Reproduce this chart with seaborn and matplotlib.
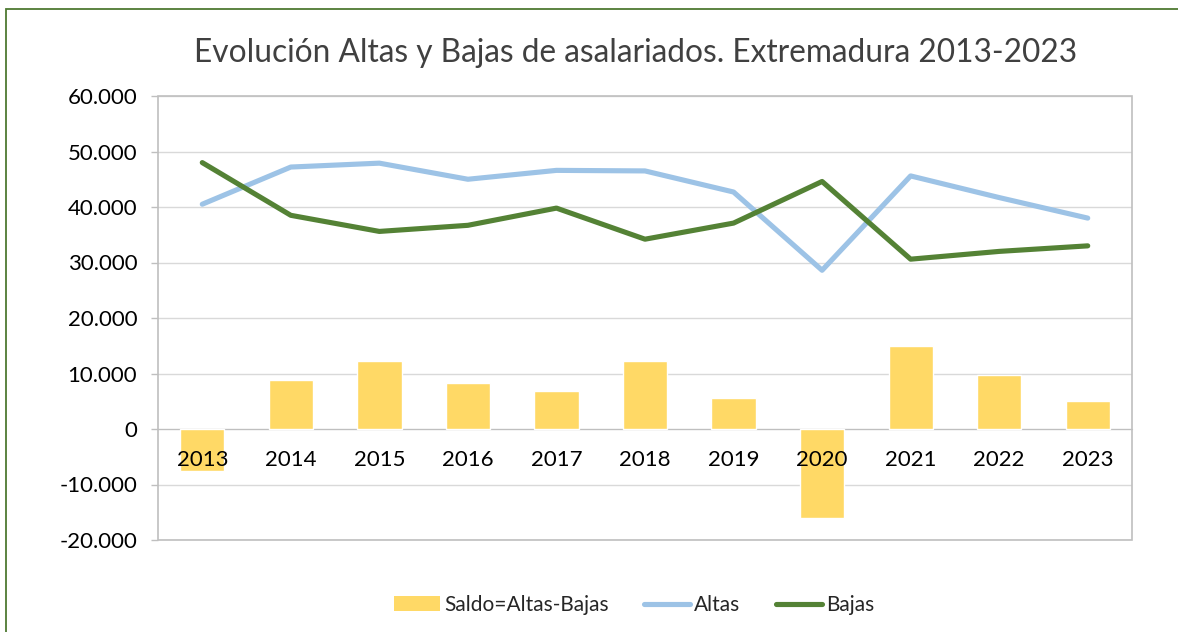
import numpy as np
import pandas as pd
import matplotlib
matplotlib.use("Agg")
import matplotlib.pyplot as plt
from matplotlib.patches import Rectangle, Patch
from matplotlib.lines import Line2D
from matplotlib.ticker import FuncFormatter, MultipleLocator
import seaborn as sns

# --- data ---
years = ["2013", "2014", "2015", "2016", "2017", "2018",
         "2019", "2020", "2021", "2022", "2023"]
altas = [40500, 47200, 47900, 45000, 46600, 46500, 42700, 28600, 45600, 41700, 38000]
bajas = [48000, 38500, 35600, 36700, 39800, 34200, 37100, 44600, 30600, 32000, 33000]
saldo = [-7500, 8800, 12300, 8300, 6800, 12300, 5600, -16000, 15000, 9700, 5000]

df = pd.DataFrame({"year": years, "altas": altas, "bajas": bajas, "saldo": saldo})
df["idx"] = np.arange(len(df))

c_bar = "#FFD966"
c_altas = "#9DC3E6"
c_bajas = "#548235"

sns.set_style("white")
plt.rcParams["font.family"] = ["Lato", "DejaVu Sans"]

fig = plt.figure(figsize=(11.78, 6.32), dpi=100)
ax = fig.add_axes([158 / 1178, 92 / 632, 974 / 1178, 444 / 632])

sns.barplot(data=df, x="year", y="saldo", color=c_bar, saturation=1,
            width=0.5, ax=ax, zorder=2)
sns.lineplot(data=df, x="idx", y="altas", color=c_altas, linewidth=3.7,
             ax=ax, zorder=3, solid_capstyle="round")
sns.lineplot(data=df, x="idx", y="bajas", color=c_bajas, linewidth=3.7,
             ax=ax, zorder=4, solid_capstyle="round")

ax.set_xlim(-0.5, len(years) - 0.5)
ax.set_ylim(-20000, 60000)
ax.yaxis.set_major_locator(MultipleLocator(10000))
ax.yaxis.set_major_formatter(FuncFormatter(lambda v, p: f"{v:,.0f}".replace(",", ".")))
ax.grid(axis="y", color="#D9D9D9", linewidth=1)
ax.set_axisbelow(True)
ax.set_xlabel("")
ax.set_ylabel("")

# category axis sits at zero, ticks between categories
for s in ["top", "right", "left"]:
    ax.spines[s].set_visible(False)
ax.spines["bottom"].set_position(("data", 0))
ax.spines["bottom"].set_color("#BFBFBF")
ax.spines["bottom"].set_zorder(1)
ax.set_xticks(np.arange(len(years)))
ax.set_xticklabels(years)
ax.set_xticks(np.arange(len(years) + 1) - 0.5, minor=True)
ax.tick_params(axis="x", which="major", length=0, pad=15, labelsize=16, labelcolor="black")
ax.tick_params(axis="x", which="minor", length=5, width=1, color="#BFBFBF", direction="out")
ax.tick_params(axis="y", length=5, width=1, color="#BFBFBF", pad=10,
               labelsize=16, labelcolor="black", left=True)
# year labels drawn over the bars
ax.xaxis.set_zorder(5)

# plot area box
ax.add_patch(Rectangle((0, 0), 1, 1, transform=ax.transAxes, fill=False,
                       edgecolor="#BFBFBF", linewidth=1.2, clip_on=False, zorder=1))

# chart border
fig.add_artist(Rectangle((6 / 1178, -0.1), 1.2, (632 - 9) / 632 + 0.1,
                         transform=fig.transFigure, fill=False,
                         edgecolor="#4E7A32", linewidth=1.3))

fig.text(636 / 1178, 1 - 53 / 632,
         "Evolución Altas y Bajas de asalariados. Extremadura 2013-2023",
         ha="center", va="center", fontsize=22.8, color="#404040")

handles = [Patch(facecolor=c_bar, edgecolor="none"),
           Line2D([], [], color=c_altas, linewidth=3.7, solid_capstyle="round"),
           Line2D([], [], color=c_bajas, linewidth=3.7, solid_capstyle="round")]
fig.legend(handles, ["Saldo=Altas-Bajas", "Altas", "Bajas"],
           loc="center", bbox_to_anchor=(634 / 1178, 1 - 605 / 632), ncol=3,
           frameon=False, fontsize=15, handlelength=2.2, handletextpad=0.2,
           columnspacing=1.7)

fig.savefig("out.png", dpi=100)
